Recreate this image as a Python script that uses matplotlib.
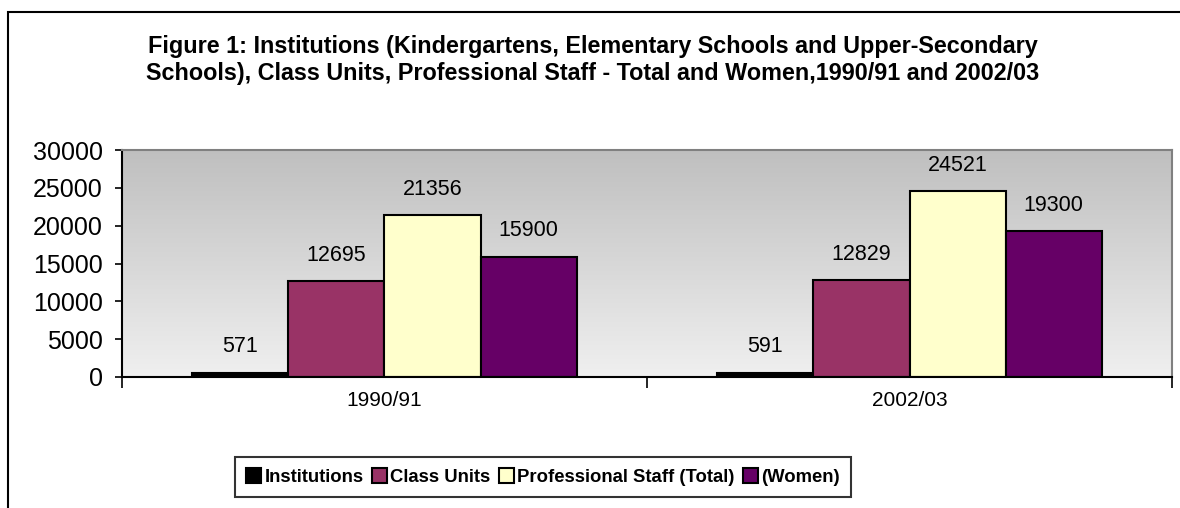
import numpy as np
import matplotlib.pyplot as plt
from matplotlib.patches import Rectangle

# chart data
years = ["1990/91", "2002/03"]
series_names = ["Institutions", "Class Units", "Professional Staff (Total)", "(Women)"]
institutions = [571, 591]
class_units = [12695, 12829]
staff_total = [21356, 24521]
staff_women = [15900, 19300]
colors = ["#000000", "#993366", "#FFFFCC", "#660066"]

title = ("Figure 1: Institutions (Kindergartens, Elementary Schools and Upper-Secondary\n"
         "Schools), Class Units, Professional Staff - Total and Women,1990/91 and 2002/03")

plt.rcParams['font.family'] = ['Liberation Sans', 'DejaVu Sans']

fig = plt.figure(figsize=(11.8, 5.08), dpi=100)
ax = fig.add_axes([122 / 1180, 1 - 377 / 508, (1172 - 122) / 1180, (377 - 150) / 508])

# outer chart border
fig.patches.append(Rectangle((8 / 1180, -0.1), 1.2, 1 - 12 / 508 + 0.1, transform=fig.transFigure,
                             fill=False, edgecolor="black", linewidth=1.5))

# gradient background of plot area: gray at top, near white at bottom
top_c, bot_c = 0.75, 0.94
shade = np.linspace(bot_c, top_c, 256).reshape(-1, 1, 1) * np.ones((1, 1, 3))
ax.imshow(shade, extent=[0.5, 2.5, 0, 30000], aspect="auto", origin="lower", zorder=0)

x = np.arange(1, len(years) + 1)
w = 0.183
all_series = [institutions, class_units, staff_total, staff_women]
for i, (vals, name, c) in enumerate(zip(all_series, series_names, colors)):
    pos = x + (i - 1.5) * w
    bars = ax.bar(pos, vals, w, color=c, edgecolor="black", linewidth=1.5, label=name, zorder=2)
    for b, v in zip(bars, vals):
        ax.annotate(str(v), (b.get_x() + b.get_width() / 2, v), xytext=(0, 11),
                    textcoords="offset points", ha="center", va="bottom", fontsize=15.5)

ax.set_xlim(0.5, 2.5)
ax.set_ylim(0, 30000)
ax.set_yticks(range(0, 30001, 5000))
ax.tick_params(axis="y", labelsize=18, length=5, width=1.2, pad=9)
ax.set_xticks([0.5, 1.5, 2.5])
ax.set_xticklabels([])
ax.tick_params(axis="x", which="major", length=8, width=1.2)
ax.set_xticks(x, minor=True)
ax.set_xticklabels(years, minor=True, fontsize=15)
ax.tick_params(axis="x", which="minor", length=0, pad=10)

for s in ["top", "right"]:
    ax.spines[s].set_color("#808080")
    ax.spines[s].set_linewidth(1.5)
for s in ["left", "bottom"]:
    ax.spines[s].set_color("black")
    ax.spines[s].set_linewidth(1.5)

fig.text(593 / 1180, 1 - 60 / 508, title, ha="center", va="center",
         fontsize=16.8, fontweight="bold", linespacing=1.2)

leg = fig.legend(loc="center", bbox_to_anchor=(543 / 1180, 1 - 477 / 508), ncol=4,
                 prop={"weight": "bold", "size": 13.3}, frameon=True, fancybox=False,
                 handlelength=0.8, handleheight=0.9, handletextpad=0.2, columnspacing=0.45,
                 borderpad=0.6, borderaxespad=0)
leg.get_frame().set_edgecolor("black")
leg.get_frame().set_linewidth(1.5)

fig.savefig("out.png", dpi=100)
